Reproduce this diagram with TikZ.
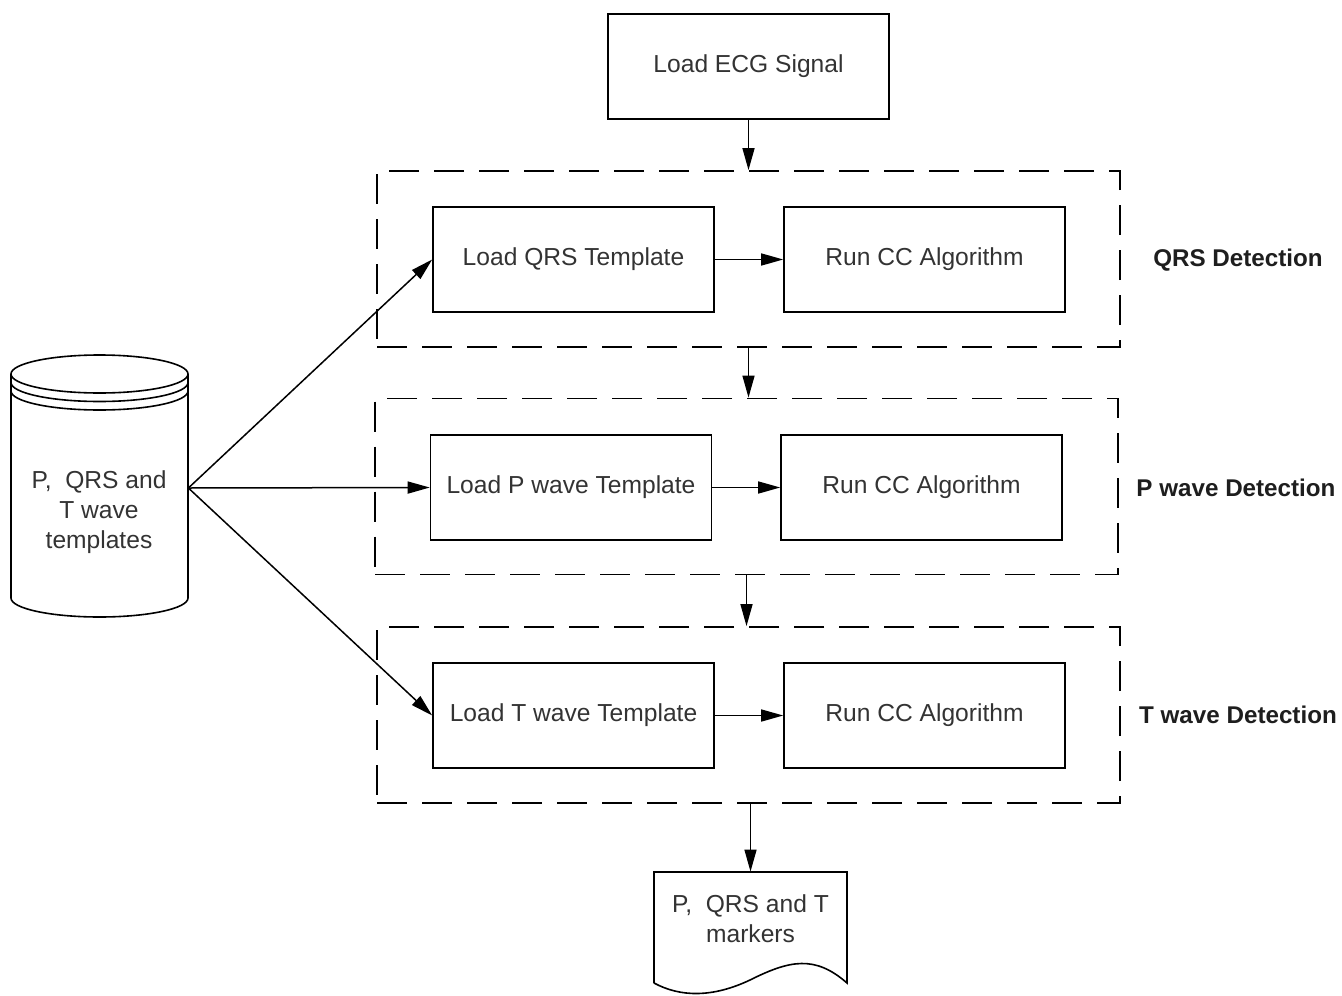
\documentclass[tikz,border=0pt]{standalone}
\usepackage{fontspec}
\setmainfont{Liberation Sans}
\usetikzlibrary{arrows.meta}
\definecolor{txt}{HTML}{333333}
\definecolor{lbl}{HTML}{1E1E1E}
\begin{document}
\begin{tikzpicture}[x=0.5pt,y=-0.5pt,
  font=\fontsize{12.3}{15}\selectfont,
  stepbox/.style={draw, line width=0.8pt, minimum width=140.5pt, minimum height=52.5pt, text=txt, inner sep=0pt},
  grpbox/.style={draw, line width=0.9pt, dash pattern=on 15pt off 7.5pt, minimum width=371.5pt, minimum height=88pt, inner sep=0pt},
  grplabel/.style={font=\fontsize{12.1}{15}\selectfont\bfseries, text=lbl},
  arr/.style={line width=0.75pt, -{Triangle[length=11pt,width=6pt]}},
  shapeline/.style={line width=0.8pt}
]
\useasboundingbox (0,0) rectangle (1342,995);

% top box
\node[stepbox] (ecg) at (748.5,66.5) {Load ECG Signal};

% groups
\node[grpbox] (qrsgrp) at (748.5,259) {};
\node[grpbox] (pgrp) at (746.5,486.5) {};
\node[grpbox] (tgrp) at (748.5,715) {};

% steps
\node[stepbox] (lqrs) at (573.5,259.5) {Load QRS Template};
\node[stepbox] (rqrs) at (924.5,259.5) {Run CC Algorithm};
\node[stepbox] (lp) at (571,487.5) {Load P wave Template};
\node[stepbox] (rp) at (921.5,487.5) {Run CC Algorithm};
\node[stepbox] (lt) at (573.5,715.5) {Load T wave Template};
\node[stepbox] (rt) at (924.5,715.5) {Run CC Algorithm};

% labels
\node[grplabel] (qrslbl) at (1238,260) {QRS Detection};
\node[grplabel] (plbl) at (1236,488) {P wave Detection};
\node[grplabel] (tlbl) at (1238,715) {T wave Detection};

% database cylinder
\node[minimum width=88.5pt, minimum height=120pt, inner sep=0pt] (db) at (99.5,488) {};
\draw[shapeline] (11,374) -- (11,598) arc[start angle=180, end angle=360, x radius=44.25pt, y radius=9.5pt] -- (188,374);
\draw[shapeline] (99.5,374) ellipse [x radius=44.25pt, y radius=9.5pt];
\draw[shapeline] (11,382.5) arc[start angle=180, end angle=360, x radius=44.25pt, y radius=9.5pt];
\draw[shapeline] (11,391) arc[start angle=180, end angle=360, x radius=44.25pt, y radius=9.5pt];
\node[align=center, text=txt, inner sep=0pt] (dbtext) at (99,512) {P,~ QRS and\\T wave\\templates};

% document
\node[minimum width=96.5pt, minimum height=47pt, inner sep=0pt, align=center, text=txt] (doc) at (750.5,919) {P,~ QRS and T\\markers};
\draw[shapeline] (654,983) -- (654,872) -- (847,872) -- (847,983)
  .. controls (815,955) and (790,960) .. (750,980)
  .. controls (712,998) and (680,997) .. (654,983);

% connectors
\draw[arr] (ecg.south) -- (ecg.south |- qrsgrp.north);
\draw[arr] (lqrs) -- (rqrs);
\draw[arr] (lp) -- (rp);
\draw[arr] (lt) -- (rt);
\draw[arr] (qrsgrp.south -| ecg.south) -- (ecg.south |- pgrp.north);
\draw[arr] (pgrp.south) -- (pgrp.south |- tgrp.north);
\draw[arr] (doc.north |- tgrp.south) -- (doc.north);
\draw[arr] (db.east) -- (lqrs.west);
\draw[arr] (db.east) -- (lp.west);
\draw[arr] (db.east) -- (lt.west);
\end{tikzpicture}
\end{document}
